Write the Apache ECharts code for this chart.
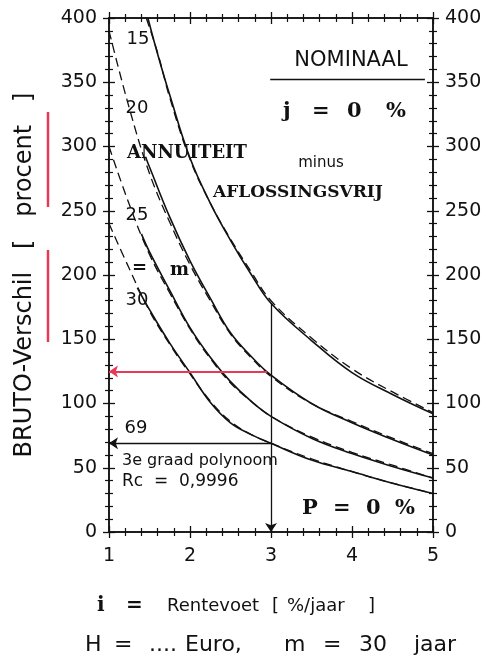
<!DOCTYPE html>
<html>
<head>
<meta charset="utf-8">
<script src="https://cdn.jsdelivr.net/npm/echarts@6.0.0/dist/echarts.min.js"></script>
<style>
  html, body { margin: 0; padding: 0; background: #fff; }
  #chart { width: 488px; height: 662px; }
</style>
</head>
<body>
<div id="chart"></div>
<script>
const m15X = [1.48, 1.6, 1.75, 2, 2.25, 2.5, 2.75, 3, 3.5, 4, 4.5, 5]
const m15Y = [400, 372, 340, 291, 256, 227, 201, 178, 149, 124, 107, 92]
const m15FitX = [1.46, 1.6, 1.75, 2, 2.25, 2.5, 2.75, 3, 3.5, 4, 4.5, 5]
const m15FitY = [400, 373, 338, 290, 256, 228, 203, 180, 151, 127, 109, 93]

const m20X = [1.45, 1.5, 1.75, 2, 2.25, 2.5, 2.75, 3, 3.5, 4, 4.5, 5]
const m20Y = [292, 284, 245, 211, 182, 155, 137, 122, 100, 85, 72, 60]
const m20FitX = [1, 1.25, 1.5, 1.75, 2, 2.25, 2.5, 2.75, 3, 3.5, 4, 4.5, 5]
const m20FitY = [390, 330, 279, 241, 208, 180, 154, 136, 121, 100, 86, 73, 61]

const m25X = [1.4, 1.5, 1.75, 2, 2.25, 2.5, 2.75, 3, 3.5, 4, 4.5, 5]
const m25Y = [232, 218, 188, 159, 136, 117, 102, 90, 73, 61, 51, 42]
const m25FitX = [1, 1.25, 1.5, 1.75, 2, 2.25, 2.5, 2.75, 3, 3.5, 4, 4.5, 5]
const m25FitY = [300, 255, 216, 186, 158, 135, 116, 102, 90, 74, 62, 52, 42]

const m30X = [1.35, 1.5, 1.75, 2, 2.25, 2.5, 2.75, 3, 3.5, 4, 4.5, 5]
const m30Y = [190, 173, 147, 124, 101, 85, 76, 69, 56, 47, 38, 30]
const m30FitX = [1, 1.25, 1.5, 1.75, 2, 2.25, 2.5, 2.75, 3, 3.5, 4, 4.5, 5]
const m30FitY = [240, 205, 172, 146, 123, 102, 86, 76, 69, 57, 47, 38, 30]

// aflees-pijlen
const readRate = 3
const readTop = 178
const readValue = 69
const redValue = 125
const redStart = 2.95
const nominaalY = 352
const nominaalX = [2.99, 4.9]

const ink = '#111'
const red = '#e8385a'
const sans = 'DejaVu Sans'
const serif = 'DejaVu Serif'

const chart = echarts.init(document.getElementById('chart'))

// as met kruis-streepjes: een keer naar buiten, een keer naar binnen
const makeAxis = (type, pos, inside, showLabel) => {
  const isX = type === 'x'
  return {
    type: 'value',
    position: pos,
    min: isX ? 1 : 0,
    max: isX ? 5 : 400,
    interval: isX ? 1 : 50,
    axisLine: { show: true, onZero: false, lineStyle: { color: ink, width: 1.5 } },
    axisTick: { show: true, inside: inside, length: 6, lineStyle: { color: ink, width: 1.3 } },
    minorTick: { show: true, splitNumber: 5, length: 4, lineStyle: { color: ink, width: 1.2 } },
    splitLine: { show: false },
    axisLabel: {
      show: showLabel,
      color: ink,
      fontFamily: sans,
      fontSize: 19,
      margin: isX ? 15 : 12
    }
  }
}

const curve = (name, xs, ys, dashed) => ({
  name: name,
  type: 'line',
  data: xs.map((x, i) => [x, ys[i]]),
  smooth: 0.4,
  symbol: 'none',
  silent: true,
  z: dashed ? 2 : 3,
  lineStyle: { color: ink, width: dashed ? 1.3 : 1.6, type: dashed ? [9, 5] : 'solid' }
})

const txt = (x, y, text, font, size, weight, align) => ({
  type: 'text',
  x: x,
  y: y,
  style: {
    text: text,
    fill: ink,
    font: (weight || 'normal') + ' ' + size + 'px "' + font + '"',
    textAlign: align || 'left',
    textVerticalAlign: 'middle'
  }
})

const option = {
  backgroundColor: '#fff',
  animation: false,
  grid: { left: 109, right: 55, top: 18, bottom: 130 },
  xAxis: [
    makeAxis('x', 'bottom', false, true),
    makeAxis('x', 'bottom', true, false),
    makeAxis('x', 'top', false, false),
    makeAxis('x', 'top', true, false)
  ],
  yAxis: [
    Object.assign(makeAxis('y', 'left', false, true), {
      name: 'BRUTO-Verschil   [   procent   ]',
      nameLocation: 'middle',
      nameGap: 72,
      nameRotate: 90,
      nameTextStyle: { color: ink, fontFamily: sans, fontSize: 24 }
    }),
    makeAxis('y', 'left', true, false),
    makeAxis('y', 'right', false, true),
    makeAxis('y', 'right', true, false)
  ],
  series: [
    curve('15', m15X, m15Y, false),
    curve('15 fit', m15FitX, m15FitY, true),
    curve('20', m20X, m20Y, false),
    curve('20 fit', m20FitX, m20FitY, true),
    curve('25', m25X, m25Y, false),
    curve('25 fit', m25FitX, m25FitY, true),
    curve('30', m30X, m30Y, false),
    curve('30 fit', m30FitX, m30FitY, true),
    {
      name: 'pijlen',
      type: 'line',
      data: [],
      silent: true,
      markLine: {
        silent: true,
        symbol: ['none', 'arrow'],
        symbolSize: 9,
        label: { show: false },
        lineStyle: { color: ink, width: 1.3, type: 'solid' },
        data: [
          [{ coord: [readRate, readTop] }, { coord: [readRate, 0] }],
          [{ coord: [readRate, readValue] }, { coord: [1, readValue] }],
          [
            { coord: [redStart, redValue], lineStyle: { color: red, width: 2.2 } },
            { coord: [1, redValue] }
          ],
          [
            { coord: [nominaalX[0], nominaalY], symbol: 'none' },
            { coord: [nominaalX[1], nominaalY], symbol: 'none' }
          ]
        ]
      }
    }
  ],
  graphic: [
    // rode strepen naast de as-titel
    { type: 'line', shape: { x1: 48, y1: 112, x2: 48, y2: 207 }, style: { stroke: red, lineWidth: 2.5 } },
    { type: 'line', shape: { x1: 48, y1: 250, x2: 48, y2: 342 }, style: { stroke: red, lineWidth: 2.5 } },

    txt(138, 39, '15', sans, 18, 'normal', 'center'),
    txt(137, 108, '20', sans, 18, 'normal', 'center'),
    txt(137, 215, '25', sans, 18, 'normal', 'center'),
    txt(137, 300, '30', sans, 18, 'normal', 'center'),
    txt(132, 268, '=', serif, 18, 'bold'),
    txt(170, 270, 'm', serif, 18, 'bold'),

    txt(127, 153, 'ANNUITEIT', serif, 18, 'bold'),
    txt(321, 163, 'minus', sans, 15, 'normal', 'center'),
    txt(213, 193, 'AFLOSSINGSVRIJ', serif, 17, 'bold'),

    txt(351, 61, 'NOMINAAL', sans, 21, 'normal', 'center'),
    txt(283, 112, 'j', serif, 21, 'bold'),
    txt(312, 112, '=', serif, 21, 'bold'),
    txt(347, 112, '0', serif, 21, 'bold'),
    txt(386, 112, '%', serif, 21, 'bold'),

    txt(302, 509, 'P', serif, 21, 'bold'),
    txt(333, 509, '=', serif, 21, 'bold'),
    txt(366, 509, '0', serif, 21, 'bold'),
    txt(395, 509, '%', serif, 21, 'bold'),

    txt(136, 428, '69', sans, 18, 'normal', 'center'),
    txt(122, 461, '3e graad polynoom', sans, 16),
    txt(122, 482, 'Rc  =  0,9996', sans, 17),

    // as-titel onder
    txt(97, 606, 'i', serif, 20, 'bold'),
    txt(126, 606, '=', serif, 20, 'bold'),
    txt(167, 606, 'Rentevoet', sans, 18),
    txt(272, 606, '[', sans, 18),
    txt(287, 606, '%/jaar', sans, 18),
    txt(368, 606, ']', sans, 18),

    txt(85, 645, 'H', sans, 22),
    txt(114, 645, '=', sans, 22),
    txt(149, 645, '....', sans, 22),
    txt(185, 645, 'Euro,', sans, 22),
    txt(284, 645, 'm', sans, 22),
    txt(323, 645, '=', sans, 22),
    txt(359, 645, '30', sans, 22),
    txt(414, 645, 'jaar', sans, 22)
  ]
}

chart.setOption(option)
</script>
</body>
</html>
